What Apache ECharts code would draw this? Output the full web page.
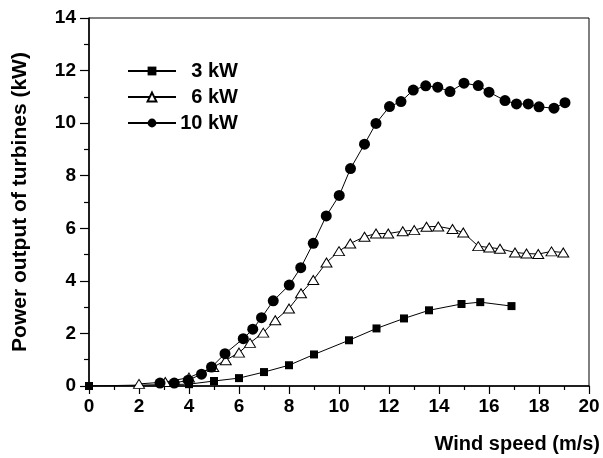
<!DOCTYPE html>
<html>
<head>
<meta charset="utf-8">
<script src="https://cdn.jsdelivr.net/npm/echarts@6/dist/echarts.min.js"></script>
<style>html,body{margin:0;padding:0;background:#fff}#c{width:603px;height:458px}</style>
</head>
<body>
<div id="c"></div>
<script>
const speed3 = [0, 4, 5, 6, 7, 8, 9, 10.4, 11.5, 12.6, 13.6, 14.9, 15.65, 16.9];
const power3 = [0, 0.07, 0.19, 0.3, 0.53, 0.79, 1.2, 1.74, 2.19, 2.57, 2.88, 3.12, 3.19, 3.04];

const speed6 = [2, 3.05, 4, 4.97, 5.47, 6.0, 6.44, 6.97, 7.45, 8.0, 8.48, 8.97, 9.5, 10.0, 10.45, 11.02, 11.48, 11.97, 12.55, 13.01, 13.5, 13.97, 14.54, 14.97, 15.57, 16.01, 16.44, 17.04, 17.5, 17.97, 18.5, 18.97];
const power6 = [0.08, 0.15, 0.32, 0.72, 0.98, 1.27, 1.64, 2.03, 2.5, 2.95, 3.53, 4.03, 4.7, 5.13, 5.42, 5.68, 5.8, 5.8, 5.89, 5.93, 6.06, 6.07, 5.97, 5.84, 5.32, 5.27, 5.22, 5.08, 5.04, 5.02, 5.12, 5.08];

const speed10 = [2.84, 3.41, 3.97, 4.5, 4.9, 5.44, 6.17, 6.55, 6.9, 7.37, 8.01, 8.47, 8.97, 9.49, 10.01, 10.46, 11.02, 11.48, 12.02, 12.48, 12.97, 13.47, 13.95, 14.44, 15.0, 15.57, 16.0, 16.64, 17.1, 17.57, 18.0, 18.6, 19.04];
const power10 = [0.11, 0.11, 0.22, 0.45, 0.72, 1.23, 1.8, 2.16, 2.6, 3.24, 3.84, 4.5, 5.43, 6.47, 7.25, 8.27, 9.2, 9.99, 10.63, 10.82, 11.26, 11.42, 11.37, 11.2, 11.52, 11.43, 11.18, 10.86, 10.73, 10.73, 10.62, 10.57, 10.78];

const seriesNames = ['3 kW', '6 kW', '10 kW'];
const xAxisName = 'Wind speed (m/s)';
const yAxisName = 'Power output of turbines (kW)';

function pairs(xs, ys) { return xs.map((x, i) => [x, ys[i]]); }

const FONT = '"Liberation Sans", Arial, sans-serif';
const chart = echarts.init(document.getElementById('c'), null, {renderer: 'canvas'});

chart.setOption({
  animation: false,
  backgroundColor: '#fff',
  grid: {left: 89, right: 13, top: 18, bottom: 72, show: true, borderColor: '#000', borderWidth: 1, backgroundColor: 'transparent'},
  legend: {
    orient: 'vertical', left: 122, top: 56,
    itemWidth: 48, itemHeight: 11, itemGap: 6,
    data: seriesNames,
    formatter: '{t|{name}}',
    textStyle: {
      fontFamily: FONT, fontWeight: 'bold', fontSize: 20, color: '#000',
      rich: {t: {width: 57, align: 'right', fontFamily: FONT, fontWeight: 'bold', fontSize: 20, color: '#000'}}
    }
  },
  xAxis: {
    type: 'value', min: 0, max: 20, interval: 2,
    name: xAxisName, nameLocation: 'end', nameGap: 11,
    nameTextStyle: {fontFamily: FONT, fontWeight: 'bold', fontSize: 20, color: '#000', align: 'right', verticalAlign: 'top', padding: [48, 0, 0, 0]},
    axisLine: {show: true, onZero: false, lineStyle: {color: '#000', width: 1.5}},
    axisTick: {show: true, inside: false, length: 8, lineStyle: {color: '#000', width: 1.2}},
    minorTick: {show: true, splitNumber: 2, length: 4, lineStyle: {color: '#000', width: 1.2}},
    splitLine: {show: false},
    axisLabel: {margin: 11, fontFamily: FONT, fontWeight: 'bold', fontSize: 19, color: '#000'}
  },
  yAxis: {
    type: 'value', min: 0, max: 14, interval: 2,
    name: yAxisName, nameLocation: 'middle', nameGap: 58,
    nameTextStyle: {fontFamily: FONT, fontWeight: 'bold', fontSize: 21, color: '#000'},
    axisLine: {show: true, onZero: false, lineStyle: {color: '#000', width: 1.5}},
    axisTick: {show: true, inside: false, length: 9, lineStyle: {color: '#000', width: 1.2}},
    minorTick: {show: true, splitNumber: 2, length: 5, lineStyle: {color: '#000', width: 1.2}},
    splitLine: {show: false},
    axisLabel: {margin: 13, fontFamily: FONT, fontWeight: 'bold', fontSize: 19, color: '#000'}
  },
  series: [
    {
      name: seriesNames[0], type: 'line', data: pairs(speed3, power3),
      symbol: 'rect', symbolSize: 8,
      lineStyle: {color: '#000', width: 1},
      itemStyle: {color: '#000', borderColor: '#000', borderWidth: 0}
    },
    {
      name: seriesNames[1], type: 'line', data: pairs(speed6, power6),
      symbol: 'triangle', symbolSize: [11, 9],
      lineStyle: {color: '#000', width: 1},
      itemStyle: {color: '#fff', borderColor: '#000', borderWidth: 1}
    },
    {
      name: seriesNames[2], type: 'line', data: pairs(speed10, power10),
      symbol: 'circle', symbolSize: 11,
      lineStyle: {color: '#000', width: 1},
      itemStyle: {color: '#000', borderColor: '#000', borderWidth: 0}
    }
  ]
});
</script>
</body>
</html>
